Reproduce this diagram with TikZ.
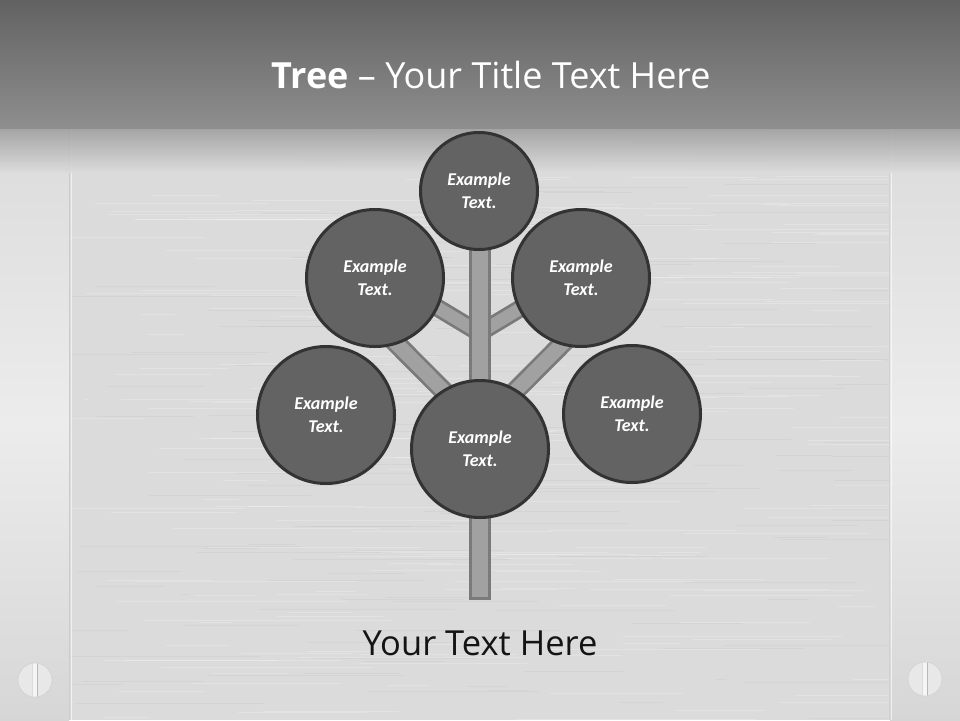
\documentclass[tikz,border=0pt]{standalone}
\usepackage{fontspec}
\setmainfont{Open Sans}
\newfontfamily\leaffont{Carlito}
\definecolor{bandtop}{HTML}{626262}
\definecolor{bandbot}{HTML}{8E8E8E}
\definecolor{bodybg}{HTML}{DBDBDB}
\definecolor{sidebg}{HTML}{ECECEC}
\definecolor{leafc}{HTML}{636363}
\definecolor{leafline}{HTML}{333333}
\definecolor{woodin}{HTML}{A1A1A1}
\definecolor{woodout}{HTML}{7A7A7A}
\definecolor{knobc}{HTML}{E8E8E8}
\begin{document}
\begin{tikzpicture}[x=1pt,y=-1pt,
  leaf/.style={circle,draw=leafline,line width=3pt,fill=leafc,
    text=white,inner sep=0pt,minimum size=137pt,
    align=center,font=\leaffont\bfseries\itshape\fontsize{18}{23}\selectfont},
  smallleaf/.style={leaf,minimum size=117pt},
  woodouter/.style={draw=woodout,line width=#1,line cap=butt},
  woodinner/.style={draw=woodin,line width=#1,line cap=butt},
  knob/.style={circle,fill=knobc,draw=black!18,line width=0.6pt,minimum size=34pt,inner sep=0pt},
  titletext/.style={text=white,anchor=base,font=\fontsize{36}{42}\selectfont},
  captiontext/.style={text=black!92,anchor=base,font=\fontsize{34.5}{40}\selectfont}
]
\useasboundingbox (0,0) rectangle (960,720);
% background
\fill[bodybg] (0,0) rectangle (960,720);
\shade[top color=black!14,bottom color=black!16,middle color=sidebg] (0,128) rectangle (69,720);
\shade[top color=black!14,bottom color=black!16,middle color=sidebg] (890,128) rectangle (960,720);
\begin{scope}
  \clip (70,128) rectangle (889,720);
  \pgfmathsetseed{7}
  \foreach \i in {1,...,220}{
    \pgfmathsetmacro\yy{130+590*rnd}
    \pgfmathsetmacro\xa{60+780*rnd}
    \pgfmathsetmacro\ll{30+220*rnd}
    \draw[white,opacity=0.22,line width=0.8pt] (\xa,\yy) -- ++(\ll,0);
  }
  \foreach \i in {1,...,140}{
    \pgfmathsetmacro\yy{130+590*rnd}
    \pgfmathsetmacro\xa{60+780*rnd}
    \pgfmathsetmacro\ll{30+200*rnd}
    \draw[black,opacity=0.03,line width=0.8pt] (\xa,\yy) -- ++(\ll,0);
  }
\end{scope}
\draw[black!20,line width=1pt] (69,128) -- (69,720);
\draw[white,opacity=0.6,line width=1pt] (71,128) -- (71,720);
\draw[black!18,line width=1pt] (889,128) -- (889,720);
\draw[white,opacity=0.6,line width=1pt] (891,128) -- (891,720);
\shade[top color=black!38,bottom color=bodybg,opacity=0.9] (0,128) rectangle (960,172);
\shade[top color=bandtop,bottom color=bandbot] (0,0) rectangle (960,128);
% knobs
\node[knob] (knobL) at (35,680) {};
\node[knob] (knobR) at (925,679) {};
\foreach \k in {knobL,knobR}{
  \begin{scope}
    \clip (\k) circle (16.5pt);
    \fill[white,opacity=0.6] ([xshift=-3pt]\k.south) rectangle ([xshift=2pt]\k.north);
    \draw[black!28,line width=0.8pt] ([xshift=2pt]\k.south) -- ([xshift=2pt]\k.north);
    \draw[black!14,line width=0.6pt] ([xshift=-3pt]\k.south) -- ([xshift=-3pt]\k.north);
  \end{scope}
}
% title
\node[titletext] (title) at (491,88) {\textbf{Tree} – Your Title Text Here};
% tree coordinates
\coordinate (base) at (479.5,600);
\coordinate (jlow) at (479.5,427);
\coordinate (jup) at (479.5,333);
\coordinate (endLL) at (381,328);
\coordinate (endLR) at (578,328);
\coordinate (endUL) at (418,296);
\coordinate (endUR) at (541,296);
% branches
\foreach \a/\b in {jlow/endLL,jlow/endLR}{
  \draw[woodouter=20pt] (\a) -- (\b);
  \draw[woodinner=14.5pt] (\a) -- (\b);
}
\foreach \a/\b in {jup/endUL,jup/endUR}{
  \draw[woodouter=18pt] (\a) -- (\b);
  \draw[woodinner=12.5pt] (\a) -- (\b);
}
% trunk
\coordinate (trunktop) at (479.5,250);
\draw[woodouter=22pt] (trunktop) -- (base);
\draw[woodinner=16pt,shorten >=3pt] (trunktop) -- (base);
% leaves
\node[smallleaf] (top) at (479,191) {Example\\Text.};
\node[leaf] (ul) at (375,278) {Example\\Text.};
\node[leaf] (ur) at (581,278) {Example\\Text.};
\node[leaf] (ll) at (326,415) {Example\\Text.};
\node[leaf] (lr) at (632,414) {Example\\Text.};
\node[leaf] (mid) at (480,449) {Example\\Text.};
% caption
\node[captiontext] (caption) at (480,655) {Your Text Here};
\end{tikzpicture}
\end{document}
